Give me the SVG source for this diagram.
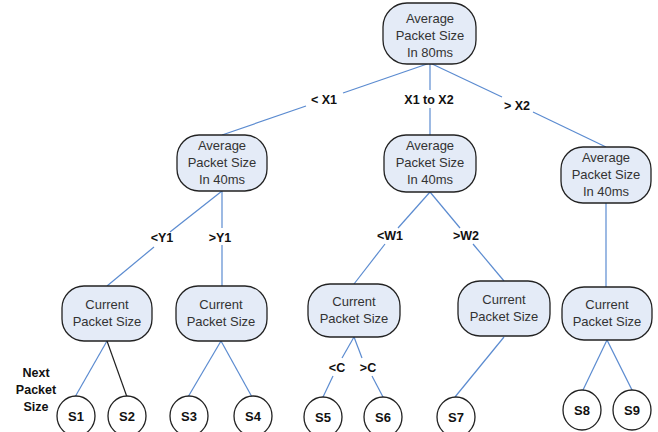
<svg xmlns="http://www.w3.org/2000/svg" width="658" height="432" viewBox="0 0 658 432">
<style>
.node rect{fill:#e4ebf7;stroke:#222;stroke-width:1.3}
.node text{font-family:"Liberation Sans",Arial,sans-serif;font-size:13px;fill:#333;text-anchor:middle}
.leaf ellipse{fill:#fff;stroke:#222;stroke-width:1.3}
.leaf text{font-family:"Liberation Sans",Arial,sans-serif;font-size:13px;font-weight:bold;fill:#111;text-anchor:middle}
.edge{stroke:#5b8bd0;stroke-width:1.2;fill:none}
.edge.dark{stroke:#222}
.lbl{font-family:"Liberation Sans",Arial,sans-serif;font-size:12.5px;font-weight:bold;fill:#111;text-anchor:middle}
</style>
<rect width="658" height="432" fill="#fff"/>
<g id="connectors">
<line class="edge" x1="430" y1="63" x2="343" y2="93"/>
<line class="edge" x1="306" y1="106" x2="222" y2="135"/>
<line class="edge" x1="430" y1="63" x2="430" y2="90"/>
<line class="edge" x1="430" y1="108" x2="430" y2="135"/>
<line class="edge" x1="430" y1="63" x2="502" y2="97"/>
<line class="edge" x1="533" y1="112" x2="606" y2="147"/>
<line class="edge" x1="222" y1="191" x2="170" y2="232"/>
<line class="edge" x1="154" y1="247" x2="107" y2="286"/>
<line class="edge" x1="222" y1="191" x2="222" y2="228"/>
<line class="edge" x1="222" y1="245" x2="222" y2="286"/>
<line class="edge" x1="430" y1="192" x2="398" y2="228"/>
<line class="edge" x1="385" y1="244" x2="354" y2="284"/>
<line class="edge" x1="430" y1="192" x2="460" y2="228"/>
<line class="edge" x1="473" y1="244" x2="504" y2="281"/>
<line class="edge" x1="606" y1="203" x2="606" y2="287"/>
<line class="edge" x1="107" y1="341" x2="75" y2="397"/>
<line class="edge dark" x1="107" y1="341" x2="127" y2="397"/>
<line class="edge" x1="221" y1="341" x2="188" y2="397"/>
<line class="edge" x1="221" y1="341" x2="252" y2="397"/>
<line class="edge" x1="354" y1="337" x2="342" y2="358"/>
<line class="edge" x1="333" y1="376" x2="323" y2="397"/>
<line class="edge" x1="354" y1="337" x2="362" y2="358"/>
<line class="edge" x1="372" y1="376" x2="383" y2="397"/>
<line class="edge" x1="504" y1="337" x2="455" y2="397"/>
<line class="edge" x1="607" y1="340" x2="583" y2="390"/>
<line class="edge" x1="607" y1="340" x2="632" y2="390"/>
</g>
<g id="edge-labels">
<text class="lbl" x="324" y="104">&lt; X1</text>
<text class="lbl" x="429" y="104">X1 to X2</text>
<text class="lbl" x="517" y="110">&gt; X2</text>
<text class="lbl" x="162" y="242">&lt;Y1</text>
<text class="lbl" x="220" y="242">&gt;Y1</text>
<text class="lbl" x="390" y="240">&lt;W1</text>
<text class="lbl" x="466" y="240">&gt;W2</text>
<text class="lbl" x="337" y="372">&lt;C</text>
<text class="lbl" x="368" y="372">&gt;C</text>
<text class="lbl" x="36" y="377">Next</text>
<text class="lbl" x="36" y="394">Packet</text>
<text class="lbl" x="36" y="411">Size</text>
</g>
<g id="root" class="node"><rect x="383" y="3" width="93" height="61" rx="24"/><text x="430" y="23">Average</text><text x="430" y="40">Packet Size</text><text x="430" y="57">In 80ms</text></g>
<g id="avg40-left" class="node"><rect x="177" y="135" width="90" height="56" rx="22"/><text x="222" y="150">Average</text><text x="222" y="167">Packet Size</text><text x="222" y="184">In 40ms</text></g>
<g id="avg40-mid" class="node"><rect x="384" y="135" width="92" height="57" rx="22"/><text x="430" y="150">Average</text><text x="430" y="167">Packet Size</text><text x="430" y="184">In 40ms</text></g>
<g id="avg40-right" class="node"><rect x="561" y="147" width="90" height="56" rx="22"/><text x="606" y="162">Average</text><text x="606" y="179">Packet Size</text><text x="606" y="196">In 40ms</text></g>
<g id="cur1" class="node"><rect x="62" y="286" width="90" height="55" rx="22"/><text x="107" y="309">Current</text><text x="107" y="326">Packet Size</text></g>
<g id="cur2" class="node"><rect x="176" y="286" width="91" height="55" rx="22"/><text x="221" y="309">Current</text><text x="221" y="326">Packet Size</text></g>
<g id="cur3" class="node"><rect x="308" y="284" width="92" height="53" rx="22"/><text x="354" y="306">Current</text><text x="354" y="323">Packet Size</text></g>
<g id="cur4" class="node"><rect x="458" y="281" width="92" height="55" rx="22"/><text x="504" y="304">Current</text><text x="504" y="321">Packet Size</text></g>
<g id="cur5" class="node"><rect x="562" y="287" width="90" height="53" rx="22"/><text x="607" y="309">Current</text><text x="607" y="326">Packet Size</text></g>
<g id="S1" class="leaf"><ellipse cx="76" cy="416" rx="19" ry="20"/><text x="76" y="421">S1</text></g>
<g id="S2" class="leaf"><ellipse cx="127" cy="416" rx="19" ry="20"/><text x="127" y="421">S2</text></g>
<g id="S3" class="leaf"><ellipse cx="189" cy="416" rx="19" ry="20"/><text x="189" y="421">S3</text></g>
<g id="S4" class="leaf"><ellipse cx="253" cy="416" rx="19" ry="20"/><text x="253" y="421">S4</text></g>
<g id="S5" class="leaf"><ellipse cx="323" cy="417" rx="19" ry="20"/><text x="323" y="422">S5</text></g>
<g id="S6" class="leaf"><ellipse cx="383" cy="417" rx="19" ry="20"/><text x="383" y="422">S6</text></g>
<g id="S7" class="leaf"><ellipse cx="456" cy="417" rx="19" ry="20"/><text x="456" y="422">S7</text></g>
<g id="S8" class="leaf"><ellipse cx="582" cy="410" rx="19" ry="20"/><text x="582" y="415">S8</text></g>
<g id="S9" class="leaf"><ellipse cx="632" cy="410" rx="19" ry="20"/><text x="632" y="415">S9</text></g>
</svg>
